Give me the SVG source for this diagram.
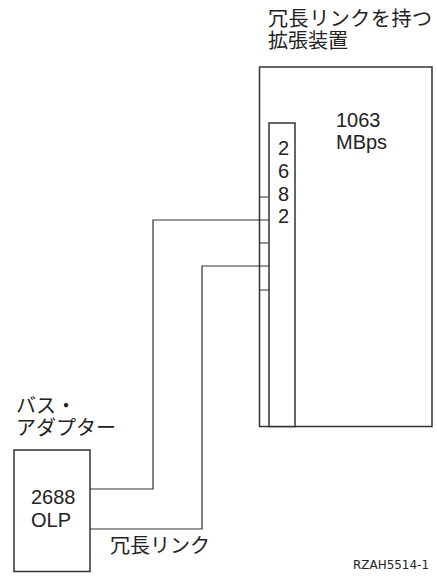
<svg xmlns="http://www.w3.org/2000/svg" width="437" height="577" viewBox="0 0 437 577">
<style>
.box{fill:#fff;stroke:#333;stroke-width:1.5}
.ln{fill:none;stroke:#333;stroke-width:1.2}
.t{font-family:"Liberation Sans","Noto Sans CJK JP",sans-serif;font-size:20px;fill:#222}
.s{font-family:"DejaVu Sans",sans-serif;font-size:12.5px;font-stretch:condensed;fill:#222}
</style>
<rect width="437" height="577" fill="#fff"/>
<g id="expansion-unit">
<rect class="box" x="259.5" y="67" width="172.5" height="359.5"/>
<text class="t" x="268" y="26" textLength="164">冗長リンクを持つ</text>
<text class="t" x="268" y="48">拡張装置</text>
<text class="t" x="336" y="127">1063</text>
<text class="t" x="336" y="148.5">MBps</text>
</g>
<g id="card-2682">
<rect class="box" x="269" y="123" width="26" height="303.5"/>
<text class="t" x="278" y="154.5">2</text>
<text class="t" x="278" y="177.5">6</text>
<text class="t" x="278" y="200.5">8</text>
<text class="t" x="278" y="223">2</text>
</g>
<g id="bus-adapter">
<rect class="box" x="14" y="450" width="76" height="121.5"/>
<text class="t" x="16" y="413">バス・</text>
<text class="t" x="16" y="435">アダプター</text>
<text class="t" x="31" y="504">2688</text>
<text class="t" x="31" y="527">OLP</text>
</g>
<g id="connectors">
<path class="ln" d="M259.5 197H269M259.5 243H269M259.5 290H269"/>
<path class="ln" d="M269 220H153V489H90"/>
<path class="ln" d="M269 266H202V529H90"/>
<text class="t" x="110" y="553">冗長リンク</text>
</g>
<text class="s" x="353" y="569" textLength="76" lengthAdjust="spacingAndGlyphs">RZAH5514-1</text>
</svg>
